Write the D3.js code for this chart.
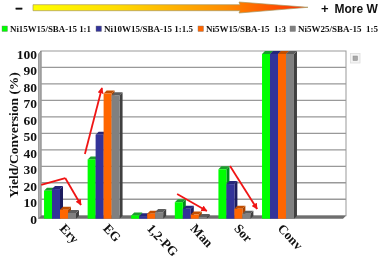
<!DOCTYPE html>
<html>
<head>
	<title>Yield and conversion</title>
	<script src="https://d3js.org/d3.v7.min.js"></script>
	<style type="text/css">
		html, body {
			margin: 0;
			padding: 0;
			background: #fff;
		}
		svg {
			display: block;
			filter: blur(0.35px);
		}
		text {
			font-family: "Liberation Serif", serif;
			font-weight: bold;
			fill: #111;
		}
		.top_text {
			font-family: "Liberation Sans", sans-serif;
		}
		.domain {
			display: none;
		}
	</style>
</head>
<body>
<div id="visualization"></div>
<script type="text/javascript">
var categories = ["Ery", "EG", "1,2-PG", "Man", "Sor", "Conv", ""];
var series = ["Ni15W15/SBA-15 1:1", "Ni10W15/SBA-15 1:1.5", "Ni5W15/SBA-15  1:3", "Ni5W25/SBA-15  1:5"];
var ery = [17, 18, 5.5, 3.5];
var eg = [36, 51, 76, 75];
var pg = [2, 1.5, 3, 4];
var man = [10, 6, 2.5, 1];
var sor = [30, 21, 6, 3];
var conv = [100, 100, 100, 100];
var y_ticks = [0, 10, 20, 30, 40, 50, 60, 70, 80, 90, 100];
// red trend arrows, [category position, value]
var trend_arrows = [
	[[0.05, 20.5], [0.6, 24.7]],
	[[0.6, 24.7], [0.96, 8.3]],
	[[1.05, 39.3], [1.44, 79.4]],
	[[3.16, 15], [3.84, 4.7]],
	[[4.37, 32], [4.99, 5.9]]
];

var rows = [ery, eg, pg, man, sor, conv];
var colors = ["#00ff00", "#333399", "#ff6600", "#808080"];
var top_colors = ["#1b9e2d", "#26267a", "#c24e00", "#5c5c5c"];
var side_colors = ["#008a1a", "#1c1c5e", "#a84300", "#404040"];
var depth = 3;

var svg_width = 380;
var svg_height = 262;
var svg = d3.select("#visualization")
	.append("svg")
	.attr("width", svg_width)
	.attr("height", svg_height);

var x = d3.scaleBand().domain(categories).range([38.2, 343.4]);
var x_inner = d3.scaleBand().domain(d3.range(4)).range([0, x.bandwidth()]).paddingOuter(0.73);
var x_pos = d3.scaleLinear().domain([0, 7]).range([39, 345]);
var y = d3.scaleLinear().domain([0, 100]).range([218.7, 54]);

var defs = svg.append("defs");
var grad = defs.append("linearGradient").attr("id", "more_w");
grad.append("stop").attr("offset", "0%").attr("stop-color", "#ffff00");
grad.append("stop").attr("offset", "30%").attr("stop-color", "#ffdd00");
grad.append("stop").attr("offset", "70%").attr("stop-color", "#ff8c00");
grad.append("stop").attr("offset", "100%").attr("stop-color", "#ff2a00");
defs.append("marker")
	.attr("id", "red_head")
	.attr("viewBox", "0 0 10 10")
	.attr("refX", 9)
	.attr("refY", 5)
	.attr("markerWidth", 3.4)
	.attr("markerHeight", 3.4)
	.attr("orient", "auto")
	.append("path")
	.attr("d", "M0,0L10,5L0,10z")
	.attr("fill", "#f01414");

// top arrow
var line = d3.line();
svg.append("path")
	.attr("d", line([[33, 4.7], [240, 4.7], [239, 2], [308, 7.3], [239, 13], [240, 10.7], [33, 10.7]]) + "Z")
	.attr("fill", "url(#more_w)")
	.attr("stroke", "#a89a60")
	.attr("stroke-width", 0.7);
svg.append("text").attr("class", "top_text").attr("x", 15.5).attr("y", 12).attr("font-size", 12.5)
	.attr("stroke", "#111").attr("stroke-width", 0.6).text("\u2013");
svg.append("text").attr("class", "top_text").attr("x", 321).attr("y", 13).attr("font-size", 13).text("+");
svg.append("text").attr("class", "top_text").attr("x", 334.5).attr("y", 13).attr("font-size", 12).text("More W");

// legend
var legend_swatch = [2, 96, 198, 290];
var legend_width = [81, 89, 80, 80];
var legend = svg.selectAll(".legend")
	.data(series)
	.enter()
	.append("g")
	.attr("class", "legend")
	.attr("transform", function(d, i) { return "translate(" + legend_swatch[i] + ",26)"; });
legend.append("rect")
	.attr("width", 5.5)
	.attr("height", 5.5)
	.attr("fill", function(d, i) { return colors[i]; })
	.attr("stroke", "#777")
	.attr("stroke-width", 0.4);
legend.append("text")
	.attr("x", 8)
	.attr("y", 6.3)
	.attr("font-size", 8.8)
	.attr("textLength", function(d, i) { return legend_width[i]; })
	.attr("lengthAdjust", "spacingAndGlyphs")
	.attr("xml:space", "preserve")
	.text(function(d) { return d; });

// plot back wall, grid lines sit a little behind the bars
svg.append("rect")
	.attr("x", 41)
	.attr("y", y(100) - depth)
	.attr("width", 305)
	.attr("height", y(0) - y(100))
	.attr("fill", "#fff")
	.attr("stroke", "#999")
	.attr("stroke-width", 1);
svg.append("path")
	.attr("d", line([[38.5, y(100)], [41, y(100) - depth], [41, y(0) - depth], [38.5, y(0)]]) + "Z")
	.attr("fill", "#b0b0b0")
	.attr("stroke", "#777")
	.attr("stroke-width", 0.6);
svg.selectAll(".grid")
	.data(y_ticks.filter(function(d) { return d > 0 && d < 100; }))
	.enter()
	.append("line")
	.attr("class", "grid")
	.attr("x1", 41)
	.attr("x2", 346)
	.attr("y1", function(d) { return y(d) - depth; })
	.attr("y2", function(d) { return y(d) - depth; })
	.attr("stroke", "#999")
	.attr("stroke-width", 1.3);
// floor
svg.append("path")
	.attr("d", line([[41, y(0) - depth], [346, y(0) - depth], [343, y(0)], [38.5, y(0)]]) + "Z")
	.attr("fill", "#6e6e6e");

var y_axis = d3.axisLeft(y).tickValues(y_ticks).tickSize(0).tickPadding(0);
svg.append("g")
	.attr("transform", "translate(37,0)")
	.call(y_axis)
	.selectAll("text")
	.attr("font-family", "Liberation Serif")
	.attr("font-size", 13.5);

svg.append("text")
	.attr("transform", "translate(18,198) rotate(-90)")
	.attr("font-size", 13.5)
	.text("Yield/Conversion (%)");

// bars, left to right so the next bar covers the side of the previous one
rows.forEach(function(row, c) {
	var g = svg.append("g").attr("transform", "translate(" + x(categories[c]) + ",0)");
	row.forEach(function(v, s) {
		var x0 = x_inner(s);
		var x1 = x0 + x_inner.bandwidth();
		g.append("path")
			.attr("d", line([[x1, y(v)], [x1 + depth, y(v) - depth], [x1 + depth, y(0) - depth], [x1, y(0)]]) + "Z")
			.attr("fill", side_colors[s]);
		g.append("path")
			.attr("d", line([[x0, y(v)], [x0 + depth, y(v) - depth], [x1 + depth, y(v) - depth], [x1, y(v)]]) + "Z")
			.attr("fill", top_colors[s]);
		g.append("rect")
			.attr("x", x0)
			.attr("y", y(v))
			.attr("width", x_inner.bandwidth())
			.attr("height", y(0) - y(v))
			.attr("fill", colors[s]);
	});
});

// category labels
svg.selectAll(".cat")
	.data(categories.slice(0, 6))
	.enter()
	.append("text")
	.attr("class", "cat")
	.attr("font-size", 13)
	.attr("transform", function(d) {
		return "translate(" + (x(d) + x.bandwidth() / 2 - 1) + ",229) rotate(47)";
	})
	.text(function(d) { return d; });

// red arrows
svg.selectAll(".trend")
	.data(trend_arrows)
	.enter()
	.append("line")
	.attr("class", "trend")
	.attr("x1", function(d) { return x_pos(d[0][0]); })
	.attr("y1", function(d) { return y(d[0][1]); })
	.attr("x2", function(d) { return x_pos(d[1][0]); })
	.attr("y2", function(d) { return y(d[1][1]); })
	.attr("stroke", "#f01414")
	.attr("stroke-width", 1.8)
	.attr("marker-end", function(d, i) { return i === 0 ? null : "url(#red_head)"; });

// little placeholder icon beside the plot
svg.append("rect")
	.attr("x", 350.5).attr("y", 53.5).attr("width", 9.5).attr("height", 9.5)
	.attr("fill", "#f4f4f4").attr("stroke", "#ddd").attr("stroke-width", 0.8);
svg.append("rect")
	.attr("x", 353).attr("y", 56).attr("width", 4.5).attr("height", 4.5)
	.attr("fill", "#a9a9a9").attr("stroke", "#8a8a8a").attr("stroke-width", 0.5);
</script>
</body>
</html>
